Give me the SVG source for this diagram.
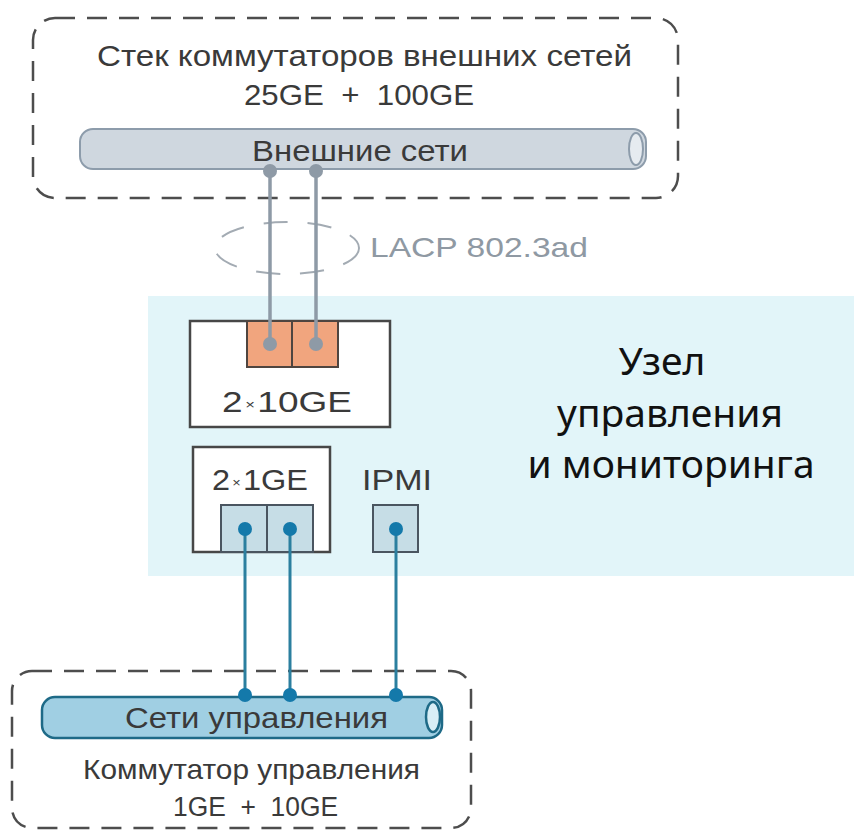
<svg xmlns="http://www.w3.org/2000/svg" width="854" height="832" viewBox="0 0 854 832">
<defs>
<style>
.dash{fill:none;stroke:#4d4d4d;stroke-width:2.5;stroke-dasharray:20 12}
.t{font-family:"Liberation Sans",Arial,sans-serif;fill:#3a3a3a}
.box{fill:#fff;stroke:#474747;stroke-width:2.5}
.op{fill:#f1a57e;stroke:#4f4540;stroke-width:2}
.bp{fill:#c6dde6;stroke:#4a5560;stroke-width:2}
.gl{stroke:#8e9aa6;stroke-width:3.5}
.gd{fill:#8e9aa6}
.bl{stroke:#2b7f9f;stroke-width:3}
.bd{fill:#1479aa}
.nl{font-family:"Noto Sans","Open Sans",sans-serif;font-size:39px;fill:#111;text-anchor:middle}
</style>
</defs>
<rect width="854" height="832" fill="#fff"/>
<rect id="node-region" x="148" y="296" width="706" height="280" fill="#e2f5f9"/>

<g id="ext-switch">
<rect class="dash" x="33" y="18" width="645" height="180" rx="22"/>
<text class="t" x="97" y="66" font-size="30" textLength="535" lengthAdjust="spacingAndGlyphs">Стек коммутаторов внешних сетей</text>
<text class="t" x="244" y="105" font-size="29" textLength="230" lengthAdjust="spacingAndGlyphs" xml:space="preserve">25GE  +  100GE</text>
<rect x="80" y="129" width="566" height="40" rx="13" fill="#cfd7df" stroke="#8d9cab" stroke-width="2"/>
<ellipse cx="636" cy="149" rx="7" ry="16" fill="#e6ebf0" stroke="#8d9cab" stroke-width="2"/>
<text class="t" x="252" y="161" font-size="30" textLength="216" lengthAdjust="spacingAndGlyphs">Внешние сети</text>
</g>

<g id="lacp">
<ellipse cx="287" cy="248" rx="72" ry="26" fill="none" stroke="#a3abb3" stroke-width="2" stroke-dasharray="24 20"/>
<text x="370" y="257" font-family="'Liberation Sans',Arial,sans-serif" font-size="28" fill="#8f99a3" textLength="218" lengthAdjust="spacingAndGlyphs">LACP 802.3ad</text>
</g>

<g id="port-10ge">
<rect class="box" x="190" y="321" width="200" height="106"/>
<rect class="op" x="247" y="321" width="45" height="46"/>
<rect class="op" x="292" y="321" width="46" height="46"/>
<text class="t" x="222" y="412" font-size="29" textLength="130" lengthAdjust="spacingAndGlyphs">2<tspan font-size="13" dx="2" dy="-3">×</tspan><tspan dx="2" dy="3">10GE</tspan></text>
</g>

<g id="port-1ge">
<rect class="box" x="193" y="447" width="137" height="105"/>
<text class="t" x="212" y="490" font-size="29" textLength="96" lengthAdjust="spacingAndGlyphs">2<tspan font-size="13" dx="2" dy="-3">×</tspan><tspan dx="2" dy="3">1GE</tspan></text>
<rect class="bp" x="221" y="505" width="46" height="47"/>
<rect class="bp" x="267" y="505" width="46" height="47"/>
</g>

<g id="ipmi">
<text class="t" x="362" y="490" font-size="29" textLength="70" lengthAdjust="spacingAndGlyphs">IPMI</text>
<rect class="bp" x="373" y="505" width="45" height="47"/>
</g>

<g id="node-label">
<text class="nl" x="662" y="375">Узел</text>
<text class="nl" x="670" y="427">управления</text>
<text class="nl" x="671" y="478">и мониторинга</text>
</g>

<g id="mgmt-switch">
<rect class="dash" x="12" y="671" width="459" height="157" rx="20"/>
<rect x="42" y="697" width="400" height="41" rx="13" fill="#a0cfe3" stroke="#1e6a87" stroke-width="2.5"/>
<ellipse cx="433" cy="717" rx="7" ry="15" fill="#d8eef6" stroke="#1e6a87" stroke-width="2.5"/>
<text class="t" x="125" y="728" font-size="29" textLength="263" lengthAdjust="spacingAndGlyphs">Сети управления</text>
<text class="t" x="83" y="779" font-size="28" textLength="337" lengthAdjust="spacingAndGlyphs">Коммутатор управления</text>
<text class="t" x="173" y="816" font-size="27" textLength="165" lengthAdjust="spacingAndGlyphs" xml:space="preserve">1GE  +  10GE</text>
</g>

<g id="connectors">
<line class="gl" x1="270" y1="171" x2="270" y2="344"/>
<line class="gl" x1="316" y1="171" x2="316" y2="344"/>
<circle class="gd" cx="270" cy="171" r="7"/>
<circle class="gd" cx="316" cy="171" r="7"/>
<circle class="gd" cx="270" cy="344" r="7"/>
<circle class="gd" cx="316" cy="344" r="7"/>
<line class="bl" x1="245" y1="529" x2="245" y2="695"/>
<line class="bl" x1="290" y1="529" x2="290" y2="695"/>
<line class="bl" x1="396" y1="529" x2="396" y2="695"/>
<circle class="bd" cx="245" cy="529" r="7"/>
<circle class="bd" cx="290" cy="529" r="7"/>
<circle class="bd" cx="396" cy="529" r="7"/>
<circle class="bd" cx="245" cy="695" r="7"/>
<circle class="bd" cx="290" cy="695" r="7"/>
<circle class="bd" cx="396" cy="695" r="7"/>
</g>
</svg>
